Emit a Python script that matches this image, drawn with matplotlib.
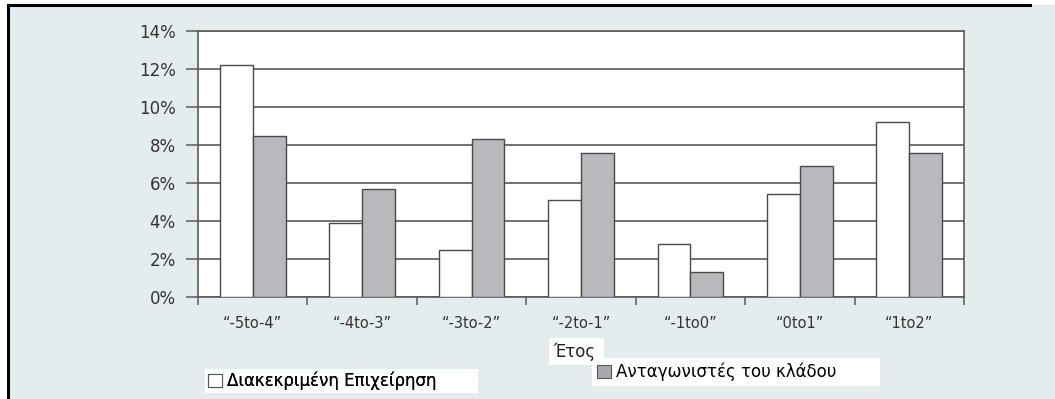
import numpy as np
import matplotlib
matplotlib.use('Agg')
import matplotlib.pyplot as plt
from matplotlib.patches import Rectangle
from matplotlib.lines import Line2D

# ===== Data =====
periods = ["\u201c-5to-4\u201d", "\u201c-4to-3\u201d", "\u201c-3to-2\u201d", "\u201c-2to-1\u201d",
           "\u201c-1to0\u201d", "\u201c0to1\u201d", "\u201c1to2\u201d"]
firm = [12.2, 3.9, 2.5, 5.1, 2.8, 5.4, 9.2]        # Διακεκριμένη Επιχείρηση (%)
rivals = [8.5, 5.7, 8.3, 7.6, 1.3, 6.9, 7.6]       # Ανταγωνιστές του κλάδου (%)
yticks = [0, 2, 4, 6, 8, 10, 12, 14]

plt.rcParams['font.family'] = ['DejaVu Sans']
W, H = 1055, 399
fig = plt.figure(figsize=(W/100, H/100), dpi=100, facecolor='white')

def px_box(x0, y0, x1, y1, **kw):
    # rectangle given in pixel coords from the top-left corner
    return Rectangle((x0/W, 1-y1/H), (x1-x0)/W, (y1-y0)/H, transform=fig.transFigure, **kw)

# panel background + black frame (left and top)
fig.add_artist(px_box(8, 5, W, H, facecolor='#e5ecee', edgecolor='none', zorder=-10))
fig.add_artist(Line2D([8/W, 8/W], [0, 1-5/H], transform=fig.transFigure, color='black', lw=2.2, zorder=5))
fig.add_artist(Line2D([8/W, 1030/W], [1-5/H, 1-5/H], transform=fig.transFigure, color='black', lw=2.2, zorder=5))

ax = fig.add_axes([198/W, 1-297/H, (964-198)/W, (297-31)/H])
ax.set_zorder(1)
ax.set_facecolor('white')

x = np.arange(len(periods))
bw = 0.3
edge = '#4a4a4a'
ax.bar(x - bw, firm, width=bw, align='edge', color='white', edgecolor=edge, linewidth=1.0, zorder=3)
ax.bar(x, rivals, width=bw, align='edge', color='#b9b9bd', edgecolor=edge, linewidth=1.0, zorder=3)

ax.set_xlim(-0.5, len(periods) - 0.5)
ax.set_ylim(0, 14)
ax.set_yticks(yticks)
ax.set_yticklabels([f"{v}%" for v in yticks], fontsize=12, color='#333333')
ax.yaxis.grid(True, color='#5a5a5a', linewidth=1.2)
ax.set_axisbelow(True)

ax.set_xticks(x)
ax.set_xticklabels(periods, fontsize=10.5, color='#333333')
ax.set_xticks(np.arange(len(periods) + 1) - 0.5, minor=True)
ax.tick_params(axis='x', which='major', length=0, pad=14)
ax.tick_params(axis='x', which='minor', length=6, width=1.1, color='#5a5a5a', direction='out')
ax.tick_params(axis='y', length=9, width=1.1, color='#5a5a5a', pad=7)
for s in ax.spines.values():
    s.set_color('#5a5a5a')
    s.set_linewidth(1.2)

# white boxes behind the axis title and legend entries
fig.add_artist(px_box(549, 338, 604, 365, facecolor='white', edgecolor='none', zorder=-5))
fig.add_artist(px_box(205, 369, 478, 393, facecolor='white', edgecolor='none', zorder=-5))
fig.add_artist(px_box(592, 358, 880, 386, facecolor='white', edgecolor='none', zorder=-5))

fig.text(553/W, 1-352/H, "Έτος", fontsize=12, color='#222222', va='center', ha='left')
h1 = Rectangle((0, 0), 1, 1, facecolor='white', edgecolor='#555555', linewidth=0.8)
h2 = Rectangle((0, 0), 1, 1, facecolor='#a9a9ad', edgecolor='#555555', linewidth=0.8)
leg_kw = dict(loc='center left', fontsize=12, frameon=False, handlelength=0.8, handleheight=0.8,
              handletextpad=0.3, borderpad=0.2, borderaxespad=0)
leg1 = fig.legend([h1], ["Διακεκριμένη Επιχείρηση"], bbox_to_anchor=(205/W, 1-381/H), **leg_kw)
leg2 = fig.legend([h2], ["Ανταγωνιστές του κλάδου"], bbox_to_anchor=(594/W, 1-372/H), **leg_kw)
fig.add_artist(leg1)

fig.savefig("out.png", dpi=100, facecolor=fig.get_facecolor())
